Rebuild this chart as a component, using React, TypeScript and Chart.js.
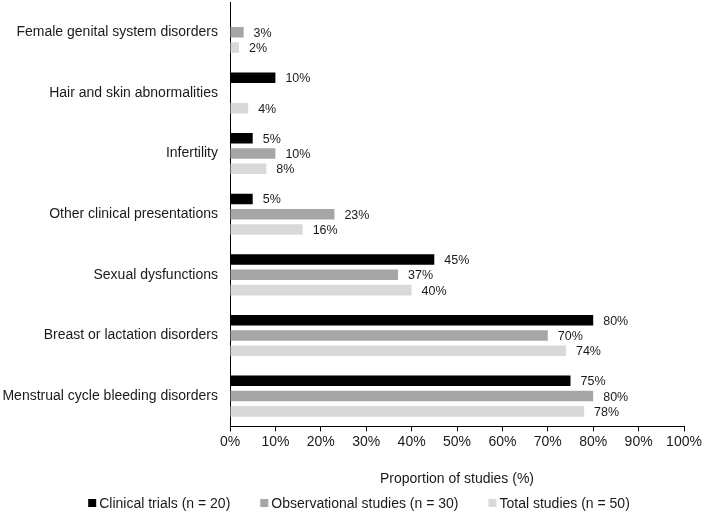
import { useEffect, useRef } from 'react';
import { Chart, registerables, Plugin } from 'chart.js';

Chart.register(...registerables);

const categories = [
    'Female genital system disorders',
    'Hair and skin abnormalities',
    'Infertility',
    'Other clinical presentations',
    'Sexual dysfunctions',
    'Breast or lactation disorders',
    'Menstrual cycle bleeding disorders',
];
const clinicalTrials = [0, 10, 5, 5, 45, 80, 75];
const observational = [3, 0, 10, 23, 37, 70, 80];
const totalStudies = [2, 4, 8, 16, 40, 74, 78];
const xTicks = [0, 10, 20, 30, 40, 50, 60, 70, 80, 90, 100];

const FONT = 'Arial, "Liberation Sans", sans-serif';
const TEXT = '#1a1a1a';

// writes the percentage just past the end of each bar
const valueLabels: Plugin<'bar'> = {
    id: 'valueLabels',
    afterDatasetsDraw(chart) {
        const ctx = chart.ctx;
        ctx.save();
        ctx.font = `12.5px ${FONT}`;
        ctx.fillStyle = TEXT;
        ctx.textBaseline = 'middle';
        ctx.textAlign = 'left';
        chart.data.datasets.forEach((ds, i) => {
            const meta = chart.getDatasetMeta(i);
            meta.data.forEach((bar: any, j) => {
                const v = ds.data[j] as number;
                if (!v) return;
                ctx.fillText(`${v}%`, bar.x + 10, bar.y + 1);
            });
        });
        ctx.restore();
    },
};

// legend along the bottom edge, small squares with wide gaps between items
const bottomLegend: Plugin<'bar'> = {
    id: 'bottomLegend',
    afterDraw(chart) {
        const ctx = chart.ctx;
        const box = 8;
        const boxGap = 3;
        const itemGap = 30;
        ctx.save();
        ctx.font = `14px ${FONT}`;
        ctx.textBaseline = 'middle';
        const items = chart.data.datasets.map((ds) => ({
            text: ds.label as string,
            color: ds.backgroundColor as string,
            w: ctx.measureText(ds.label as string).width,
        }));
        const total = items.reduce((s, it) => s + box + boxGap + it.w, 0) + itemGap * (items.length - 1);
        let x = chart.width / 2 + 5 - total / 2;
        const y = 503;
        items.forEach((it) => {
            ctx.fillStyle = it.color;
            ctx.fillRect(x, y - box / 2, box, box);
            x += box + boxGap;
            ctx.fillStyle = TEXT;
            ctx.fillText(it.text, x, y + 1);
            x += it.w + itemGap;
        });
        ctx.restore();
    },
};

export default function App() {
    const canvasRef = useRef<HTMLCanvasElement>(null);

    useEffect(() => {
        document.body.style.margin = '0';
        if (!canvasRef.current) return;
        const chart = new Chart(canvasRef.current, {
            type: 'bar',
            data: {
                labels: categories,
                datasets: [
                    { label: 'Clinical trials (n = 20)', data: clinicalTrials, backgroundColor: '#000000' },
                    { label: 'Observational studies (n = 30)', data: observational, backgroundColor: '#a6a6a6' },
                    { label: 'Total studies (n = 50)', data: totalStudies, backgroundColor: '#d9d9d9' },
                ],
            },
            options: {
                indexAxis: 'y',
                responsive: false,
                animation: false,
                categoryPercentage: 0.756,
                barPercentage: 0.69,
                layout: { padding: { top: 2, right: 24, left: 2, bottom: 26 } },
                plugins: {
                    legend: { display: false },
                    tooltip: { enabled: false },
                },
                scales: {
                    x: {
                        min: 0,
                        max: 100,
                        afterBuildTicks: (axis) => {
                            axis.ticks = xTicks.map((v) => ({ value: v }));
                        },
                        ticks: {
                            callback: (v) => `${v}%`,
                            color: TEXT,
                            font: { family: FONT, size: 14 },
                            padding: 2,
                            maxRotation: 0,
                        },
                        grid: {
                            display: true,
                            drawOnChartArea: false,
                            drawTicks: true,
                            tickLength: 5,
                            color: '#000',
                        },
                        border: { display: true, color: '#000', width: 1 },
                        title: {
                            display: true,
                            text: 'Proportion of studies (%)',
                            color: TEXT,
                            font: { family: FONT, size: 14 },
                            padding: { top: 19, bottom: 0 },
                        },
                    },
                    y: {
                        ticks: {
                            color: TEXT,
                            font: { family: FONT, size: 14 },
                            padding: 12,
                        },
                        grid: { display: false, drawTicks: false },
                        border: { display: true, color: '#000', width: 1 },
                        afterFit: (scale) => {
                            scale.width = 228;
                            scale.paddingTop = 0;
                            scale.paddingBottom = 0;
                        },
                    },
                },
            },
            plugins: [valueLabels, bottomLegend],
        });
        return () => chart.destroy();
    }, []);

    return <canvas ref={canvasRef} width={708} height={514} style={{ display: 'block' }} />;
}
